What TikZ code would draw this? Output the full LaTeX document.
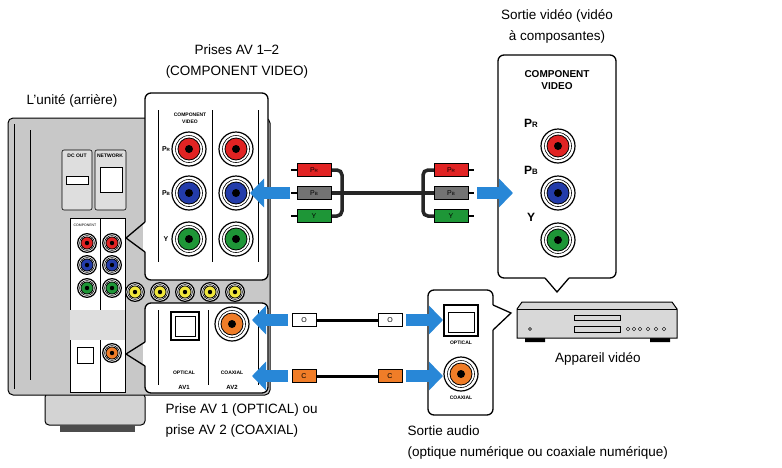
\documentclass[tikz,border=0pt]{standalone}
\usepackage{fontspec}
\setmainfont{Liberation Sans}
\usetikzlibrary{arrows.meta}
\definecolor{jred}{RGB}{225,35,35}
\definecolor{jblue}{RGB}{35,60,170}
\definecolor{jgreen}{RGB}{30,150,55}
\definecolor{jorange}{RGB}{240,125,40}
\definecolor{jyellow}{RGB}{240,230,60}
\definecolor{arrblue}{RGB}{40,135,215}
\definecolor{bodygray}{RGB}{200,200,200}
\tikzset{
  inset/.style={fill=white,draw=black,line width=1.3pt,rounded corners=6pt},
  bigarrow/.style={-{Triangle[length=14pt,width=28pt]},line width=12pt,arrblue},
  cable/.style={line width=3.5pt,black!85,rounded corners=5pt},
  plug/.style={draw=black,line width=0.6pt,minimum width=34pt,minimum height=13pt,inner sep=0pt,font=\fontsize{7}{7}\selectfont},
  lbl/.style={font=\fontsize{13.5}{21}\selectfont,align=center},
  tiny/.style={font=\bfseries\fontsize{5}{5}\selectfont,inner sep=0pt},
}
\newcommand\rca[4]{% x, y, colour, scale
  \fill[white,draw=black,line width=1.2pt] (#1,#2) circle (17*#4);
  \draw[line width=0.6pt] (#1,#2) circle (13.5*#4);
  \fill[#3,draw=black,line width=0.8pt] (#1,#2) circle (11*#4);
  \fill[black] (#1,#2) circle (4*#4);}
\newcommand\sub[1]{{\fontsize{0.65em}{1em}\selectfont #1}}
\begin{document}
\begin{tikzpicture}[x=1pt,y=-1pt]
  \useasboundingbox (0,0) rectangle (782,467);
  % unit body
  \fill[bodygray!80,draw=black,line width=1pt,rounded corners=4pt] (45,393) rectangle (145,425);
  \fill[black!70] (60,425) rectangle (135,432);
  \fill[bodygray,draw=black,line width=1pt,rounded corners=5pt] (8,118) rectangle (270,395);
  \draw[line width=0.5pt] (14,124) -- (14,389);
  \draw[line width=0.5pt] (30,130) -- (30,380);
  \fill[bodygray!60,draw=black,line width=0.6pt,rounded corners=2pt] (62,150) rectangle (92,210);
  \fill[bodygray!60,draw=black,line width=0.6pt,rounded corners=2pt] (95,150) rectangle (126,210);
  \node[tiny] (dcout) at (77,156) {DC OUT};
  \node[tiny] (netw) at (110,156) {NETWORK};
  \fill[white,draw=black] (66,176) rectangle (88,184);
  \fill[white,draw=black] (100,167) rectangle (122,192);
  \fill[white,draw=black,line width=0.5pt] (70,218) rectangle (125,392);
  \draw[line width=0.5pt] (100,218) -- (100,392);
  \fill[bodygray!60] (70,310) rectangle (125,340);
  \node[tiny,font=\fontsize{3.5}{3.5}\selectfont] (cvs) at (85,225) {COMPONENT};
  \foreach \y/\c in {243/jred,265/jblue,288/jgreen}{
    \rca{87}{\y}{\c}{0.55}
    \rca{112}{\y}{\c}{0.55}}
  \foreach \x in {135,160,185,210,235}
    \rca{\x}{292}{jyellow}{0.55}
  \fill[white,draw=black] (77,347) rectangle (93,363);
  \rca{112}{353}{jorange}{0.55}
  % upper inset
  \draw[inset] (145,93) rectangle (268,280);
  \fill[white] (143,222) rectangle (147,252);
  \draw[line width=1.3pt] (145,222) -- (126,238) -- (145,252);
  \draw[line width=0.5pt] (158,110) -- (158,262) (212,110) -- (212,262) (258,110) -- (258,262);
  \node[tiny] (cvtitle) at (190,115) {COMPONENT};
  \node[tiny] (cvtitle2) at (190,122) {VIDEO};
  \foreach \y/\c/\t in {149/jred/P\sub{R},193/jblue/P\sub{B},239/jgreen/Y}{
    \node[tiny,font=\bfseries\fontsize{7}{7}\selectfont] at (166,\y) {\t};
    \rca{189}{\y}{\c}{1}
    \rca{236}{\y}{\c}{1}}
  % lower inset
  \draw[inset] (145,303) rectangle (268,393);
  \fill[white] (143,342) rectangle (147,366);
  \draw[line width=1.3pt] (145,342) -- (126,354) -- (145,366);
  \draw[line width=0.5pt] (158,310) -- (158,385) (208,310) -- (208,385) (258,310) -- (258,385);
  \fill[white,draw=black,line width=1.2pt] (171,312) rectangle (199,340);
  \draw[line width=0.5pt] (175,316) rectangle (195,336);
  \rca{232}{324}{jorange}{1}
  \node[tiny] (optl) at (184,373) {OPTICAL};
  \node[tiny] (coaxl) at (232,373) {COAXIAL};
  \node[tiny,font=\bfseries\fontsize{6}{6}\selectfont] (av1) at (184,387) {AV1};
  \node[tiny,font=\bfseries\fontsize{6}{6}\selectfont] (av2) at (232,387) {AV2};
  % right inset (video output)
  \draw[inset] (498,55) rectangle (616,278);
  \fill[white] (545,276) rectangle (569,281);
  \draw[line width=1.3pt] (545,278) -- (557,292) -- (569,278);
  \node[font=\bfseries\fontsize{10}{12}\selectfont,align=center] (rtitle) at (557,80) {COMPONENT\\VIDEO};
  \foreach \y/\c/\t/\ly in {146/jred/P\sub{R}/123,193/jblue/P\sub{B}/170,240/jgreen/Y/217}{
    \node[font=\bfseries\fontsize{12}{12}\selectfont] at (531,\ly) {\t};
    \rca{558}{\y}{\c}{1}}
  % audio output inset
  \draw[inset] (428,290) rectangle (493,415);
  \fill[white] (491,305) rectangle (495,330);
  \draw[line width=1.3pt] (493,305) -- (511,313) -- (493,330);
  \fill[white,draw=black,line width=1.8pt] (444,305) rectangle (478,336);
  \draw[line width=0.5pt] (448,312) rectangle (474,332);
  \rca{461}{374}{jorange}{1}
  \node[tiny] (optr) at (461,343) {OPTICAL};
  \node[tiny] (coaxr) at (461,398) {COAXIAL};
  % video player
  \fill[black] (525,336) rectangle (545,342) (650,336) rectangle (670,342);
  \fill[bodygray!70,draw=black,line width=1pt] (517,309) -- (522,302) -- (672,302) -- (677,309) -- (677,338) -- (517,338) -- cycle;
  \draw[line width=0.6pt] (517,309) -- (677,309);
  \draw[line width=0.5pt] (574,315) rectangle (620,320) (574,326) rectangle (620,332);
  \draw (530,329) circle (1.5);
  \foreach \x in {628,634,640,648,656,664} \draw (\x,329) circle (1.8);
  % cables
  \coordinate (vl) at (342,193);
  \coordinate (vr) at (423,193);
  \draw[cable] (330,170) -- (342,170) -- (342,216) -- (330,216);
  \draw[cable] (435,170) -- (423,170) -- (423,216) -- (435,216);
  \draw[cable] (330,193) -- (435,193);
  \foreach \y/\c/\t in {170/jred/P\sub{R},193/black!55/P\sub{B},216/jgreen/Y}{
    \node[plug,fill=\c] (pl\y) at (314,\y) {\t};
    \draw[line width=1.5pt] (pl\y.west) -- ++(-6,0);
    \node[plug,fill=\c] (pr\y) at (451,\y) {\t};
    \draw[line width=1.5pt] (pr\y.east) -- ++(6,0);}
  \node[plug,fill=white,minimum width=24pt] (ol) at (304,320) {O};
  \node[plug,fill=white,minimum width=24pt] (or) at (390,320) {O};
  \draw[line width=3pt] (ol) -- (or);
  \node[plug,fill=jorange,minimum width=24pt] (cl) at (304,376) {C};
  \node[plug,fill=jorange,minimum width=24pt] (cr) at (390,376) {C};
  \draw[line width=3pt] (cl) -- (cr);
  % arrows
  \coordinate (avs) at (290,193); \coordinate (avt) at (250,193);
  \coordinate (bvs) at (477,193); \coordinate (bvt) at (513,193);
  \draw[bigarrow] (avs) -- (avt);
  \draw[bigarrow] (bvs) -- (bvt);
  \foreach \y in {320,376}{
    \coordinate (as\y) at (288,\y); \coordinate (at\y) at (252,\y);
    \coordinate (bs\y) at (406,\y); \coordinate (bt\y) at (443,\y);
    \draw[bigarrow] (as\y) -- (at\y);
    \draw[bigarrow] (bs\y) -- (bt\y);}
  % labels
  \node[lbl] (prises) at (237,62) {Prises AV 1–2\\(COMPONENT VIDEO)};
  \node[lbl] (unite) at (72,101) {L’unité (arrière)};
  \node[lbl] (sortv) at (557,26) {Sortie vidéo (vidéo\\à composantes)};
  \node[lbl] (appar) at (598,359) {Appareil vidéo};
  \node[lbl,align=left,anchor=west] (prise1) at (162,420) {Prise AV 1 (OPTICAL) ou\\prise AV 2 (COAXIAL)};
  \node[lbl,align=left,anchor=west] (sorta) at (404,442) {Sortie audio\\(optique numérique ou coaxiale numérique)};
\end{tikzpicture}
\end{document}
